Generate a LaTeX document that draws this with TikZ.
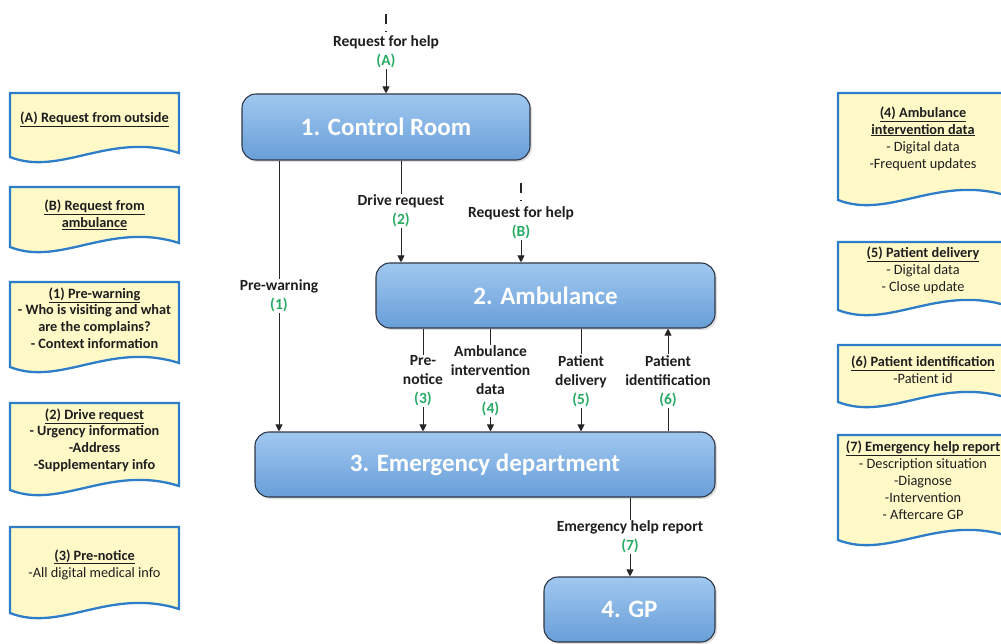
\documentclass[tikz,border=0pt]{standalone}
\usepackage{fontspec}
\setmainfont{Carlito}
\usetikzlibrary{arrows.meta,shadows}

\definecolor{boxtop}{RGB}{160,200,240}
\definecolor{boxbot}{RGB}{104,158,216}
\definecolor{boxline}{RGB}{45,55,70}
\definecolor{docfill}{RGB}{255,249,200}
\definecolor{docline}{RGB}{45,125,200}
\definecolor{numgreen}{RGB}{40,170,100}
\definecolor{txt}{RGB}{30,30,30}

% green flow number under a connector label
\newcommand\flownum[1]{\textcolor{numgreen}{#1}}
% document shape with a wavy bottom: left x, top y, y of left bottom end, width
\newcommand\wavedoc[4]{%
  \draw[docshape] (#1,#2) -- (#1+#4,#2) -- (#1+#4,#3-4)
    .. controls (#1+0.59*#4,#3-26) and (#1+0.3*#4,#3+20) .. (#1,#3) -- cycle;}

\begin{document}
\begin{tikzpicture}[x=1pt,y=-1pt,
  procbox/.style={rectangle, rounded corners=14pt, draw=boxline, line width=1.1pt,
    top color=boxtop, bottom color=boxbot, text=white,
    font=\fontsize{25}{29}\selectfont\bfseries,
    drop shadow={opacity=0.25,shadow xshift=2pt,shadow yshift=-2pt}},
  flowlbl/.style={font=\fontsize{15.5}{19}\selectfont\bfseries, text=txt, align=center, inner sep=1pt},
  doctext/.style={font=\fontsize{14.3}{17}\selectfont, text=txt, align=center, inner sep=0pt},
  docshape/.style={draw=docline, fill=docfill, line width=2.3pt},
  flow/.style={draw=black!85, line width=0.9pt},
  arr/.style={flow, -{Triangle[length=7pt,width=7pt]}},
  srcdash/.style={flow, line width=1.1pt, dash pattern=on 10pt off 7pt on 1.5pt off 30pt}
  ]
\useasboundingbox (0,0) rectangle (1001,644);
\clip (0,0) rectangle (1001,644);

% ---------- process boxes ----------
\node[procbox, minimum width=288pt, minimum height=66pt] (cr)  at (386,127)   {1. Control Room};
\node[procbox, minimum width=339pt, minimum height=65pt] (amb) at (545.5,295.5) {2. Ambulance};
\node[procbox, minimum width=460pt, minimum height=65pt] (ed)  at (485,464.5) {3. Emergency department};
\node[procbox, minimum width=171pt, minimum height=65pt] (gp)  at (629.5,609.5) {4. GP};

% ---------- connector labels ----------
\node[flowlbl] (lA) at (386,52)  {Request for help\\\flownum{(A)}};
\node[flowlbl] (l1) at (279,296) {Pre-warning\\\flownum{(1)}};
\node[flowlbl] (l2) at (401,211) {Drive request\\\flownum{(2)}};
\node[flowlbl] (lB) at (521,223) {Request for help\\\flownum{(B)}};
\node[flowlbl] (l3) at (423,381) {Pre-\\notice\\\flownum{(3)}};
\node[flowlbl] (l4) at (490.5,381) {Ambulance\\intervention\\data\\\flownum{(4)}};
\node[flowlbl] (l5) at (581,381) {Patient\\delivery\\\flownum{(5)}};
\node[flowlbl] (l6) at (668,381) {Patient\\identification\\\flownum{(6)}};
\node[flowlbl] (l7) at (630,537) {Emergency help report\\\flownum{(7)}};

\coordinate (srcA) at (386,14);
\coordinate (srcB) at (521,183);

% ---------- connectors ----------
\draw[srcdash] (srcA) -- (lA.north);
\draw[arr] (lA.south) -- (cr.north -| lA);

\draw[flow] (cr.south -| l1) -- (l1.north);
\draw[arr] (l1.south) -- (ed.north -| l1);

\draw[flow] (cr.south -| l2) -- (l2.north);
\draw[arr] (l2.south) -- (amb.north -| l2);

\draw[srcdash] (srcB) -- (lB.north);
\draw[arr] (lB.south) -- (amb.north -| lB);

\draw[flow] (amb.south -| l3) -- (l3.north);
\draw[arr] (l3.south) -- (ed.north -| l3);

\draw[flow] (amb.south -| l4) -- (l4.north);
\draw[arr] (l4.south) -- (ed.north -| l4);

\draw[flow] (amb.south -| l5) -- (l5.north);
\draw[arr] (l5.south) -- (ed.north -| l5);

\draw[flow] (ed.north -| l6) -- (l6.south);
\draw[arr] (l6.north) -- (amb.south -| l6);

\draw[flow] (ed.south -| l7) -- (l7.north);
\draw[arr] (l7.south) -- (gp.north -| l7);

% ---------- left documents ----------
\wavedoc{10}{93}{157}{169}
\node[doctext] (dA) at (94.5,119) {\textbf{\underline{(A) Request from outside}}};
\wavedoc{10}{187}{247}{169}
\node[doctext] (dB) at (94.5,215) {\textbf{\underline{(B) Request from}}\\\textbf{\underline{ambulance}}};
\wavedoc{10}{282}{367}{169}
\node[doctext, font=\fontsize{14.3}{16.7}\selectfont\bfseries] (d1) at (94.5,318)
  {\underline{(1) Pre-warning}\\- Who is visiting and what\\are the complains?\\- Context information};
\wavedoc{10}{403}{490}{169}
\node[doctext, font=\fontsize{14.3}{16.7}\selectfont\bfseries] (d2) at (94.5,440)
  {\underline{(2) Drive request}\\- Urgency information\\-Address\\-Supplementary info};
\wavedoc{10}{527}{613}{169}
\node[doctext] (d3) at (94.5,564.5) {\textbf{\underline{(3) Pre-notice}}\\-All digital medical info};

% ---------- right documents ----------
\wavedoc{838}{93}{200}{170}
\node[doctext] (d4) at (923,138.5)
  {\textbf{\underline{(4) Ambulance}}\\\textbf{\underline{intervention data}}\\- Digital data\\-Frequent updates};
\wavedoc{838}{242}{310}{170}
\node[doctext] (d5) at (923,270) {\textbf{\underline{(5) Patient delivery}}\\- Digital data\\- Close update};
\wavedoc{838}{345}{402}{170}
\node[doctext] (d6) at (923,370) {\textbf{\underline{(6) Patient identification}}\\-Patient id};
\wavedoc{838}{435}{540}{170}
\node[doctext] (d7) at (923,480)
  {\textbf{\underline{(7) Emergency help report}}\\- Description situation\\-Diagnose\\-Intervention\\- Aftercare GP};
\end{tikzpicture}
\end{document}
